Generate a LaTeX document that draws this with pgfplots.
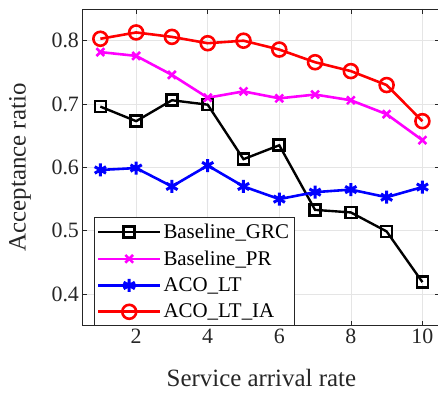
\documentclass[border=0pt]{standalone}
\usepackage{fontspec}
\setmainfont{Liberation Serif}
\usepackage{pgfplots}
\pgfplotsset{compat=1.18}
\definecolor{txt}{RGB}{38,38,38}
\definecolor{mag}{RGB}{255,0,255}
\definecolor{blu}{RGB}{0,0,255}
\definecolor{rd}{RGB}{255,0,0}
\begin{document}
\begin{tikzpicture}
\begin{axis}[
  name=ax,
  scale only axis,
  width=358bp, height=317bp,
  xmin=0.5, xmax=10.5, ymin=0.35, ymax=0.85,
  xtick={2,4,6,8,10},
  ytick={0.4,0.5,0.6,0.7,0.8},
  yticklabel style={/pgf/number format/fixed, /pgf/number format/precision=1},
  /pgf/number format/assume math mode=true,
  tick align=inside,
  major tick length=5bp,
  grid=major,
  grid style={gray!20, line width=0.6pt},
  axis line style={txt, line width=0.8pt},
  tick style={txt, line width=0.6pt},
  ticklabel style={font=\fontsize{22}{26}\selectfont, text=txt},
  label style={font=\fontsize{25}{30}\selectfont, text=txt},
  xlabel={Service arrival rate},
  ylabel={Acceptance ratio},
  xlabel style={at={(axis description cs:0.5,0)}, anchor=north, yshift=-40bp},
  ylabel style={at={(axis description cs:0,0.5)}, anchor=south, yshift=48bp},
  legend style={at={(rel axis cs:0.031,0)}, anchor=south west,
    font=\fontsize{21}{25}\selectfont, draw=txt, line width=0.8pt,
    inner xsep=3bp, inner ysep=4bp, row sep=7bp},
  legend cell align=left,
  legend image code/.code={\draw[mark repeat=2,mark phase=2] plot coordinates {(0bp,0bp)(31bp,0bp)(62bp,0bp)};},
]
\addplot[black, line width=2.4pt, mark=square, mark size=5.5bp, mark options={line width=2.6pt}]
coordinates {(1,0.696)(2,0.673)(3,0.706)(4,0.699)(5,0.613)(6,0.635)(7,0.533)(8,0.529)(9,0.499)(10,0.419)};
\addlegendentry{Baseline\_GRC}
\addplot[mag, line width=2.6pt, mark=x, mark size=5.5bp, mark options={line width=2.6pt}]
coordinates {(1,0.782)(2,0.776)(3,0.746)(4,0.710)(5,0.720)(6,0.709)(7,0.715)(8,0.706)(9,0.684)(10,0.643)};
\addlegendentry{Baseline\_PR}
\addplot[blu, line width=2.6pt, mark=asterisk, mark size=6.5bp, mark options={line width=3pt}]
coordinates {(1,0.596)(2,0.599)(3,0.570)(4,0.603)(5,0.570)(6,0.550)(7,0.561)(8,0.565)(9,0.553)(10,0.569)};
\addlegendentry{ACO\_LT}
\addplot[rd, line width=2.6pt, mark=o, mark size=7bp, mark options={line width=2.6pt}]
coordinates {(1,0.803)(2,0.813)(3,0.806)(4,0.796)(5,0.800)(6,0.786)(7,0.766)(8,0.752)(9,0.730)(10,0.673)};
\addlegendentry{ACO\_LT\_IA}
\end{axis}
\pgfresetboundingbox
\path[use as bounding box] ([shift={(-82.5bp,-68bp)}]ax.south west) rectangle ([shift={(-2.3bp,9bp)}]ax.north east);
\end{tikzpicture}
\end{document}
